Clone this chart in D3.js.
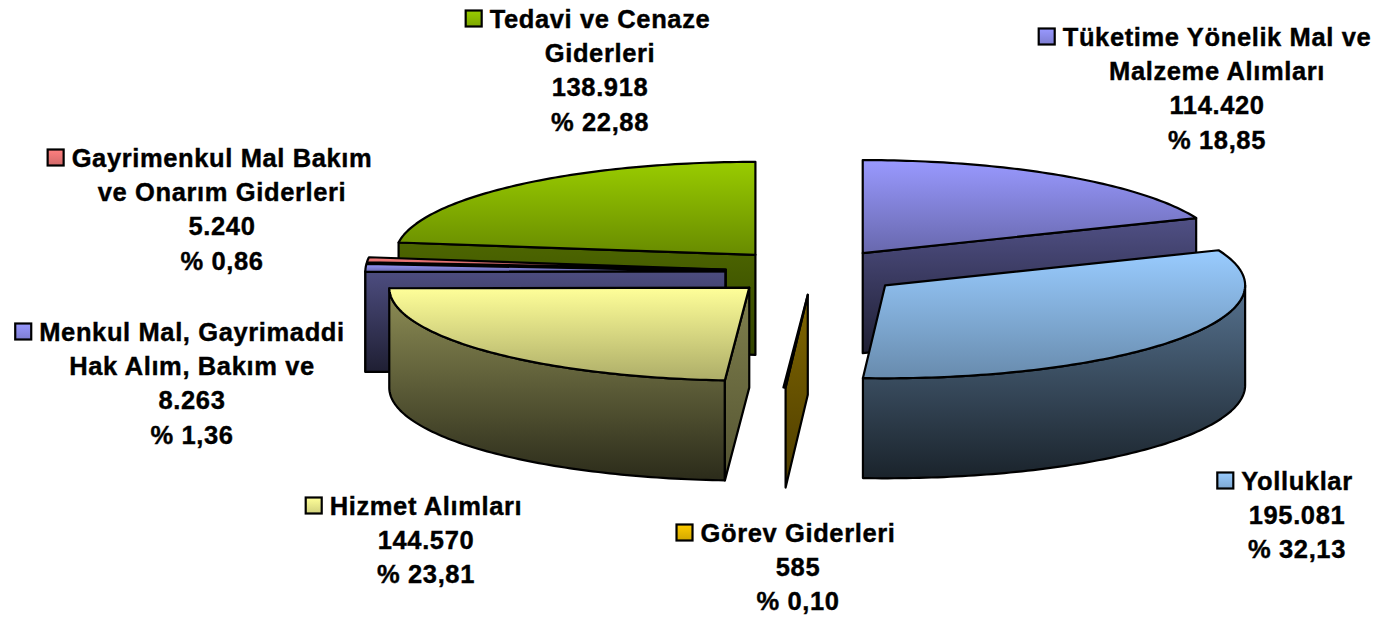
<!DOCTYPE html>
<html><head><meta charset="utf-8">
<script src="https://cdn.jsdelivr.net/npm/d3@7/dist/d3.min.js"></script>
<style>html,body{margin:0;padding:0;background:#fff}svg{display:block}
text{font-family:"Liberation Sans",Arial,sans-serif;font-weight:700;font-size:25.5px;letter-spacing:.62px;fill:#000;stroke:#000;stroke-width:.4px}</style>
</head><body><svg id="c" width="1376" height="621"></svg>
<script>
// Data, clockwise from 12 o'clock
const categories = [
  ["Tüketime Yönelik Mal ve","Malzeme Alımları"],
  ["Yolluklar"],
  ["Görev Giderleri"],
  ["Hizmet Alımları"],
  ["Menkul Mal, Gayrimaddi","Hak Alım, Bakım ve"],
  ["Gayrimenkul Mal Bakım","ve Onarım Giderleri"],
  ["Tedavi ve Cenaze","Giderleri"]
];
const values = [114420,195081,585,144570,8263,5240,138918];
const colors = ["#9999FF","#99CCFF","#FFCC00","#FFFF99","#9999FF","#FF8080","#99CC00"];

// Layout
const labelCx = [1217,1297,798,426,192,222,600];
const labelTop = [36.5,480.5,532.5,505.5,331.5,157.5,18.5];
const drawOrder = [6,5,4,0,2,3,1];
const lineStep = 34.4;
const cx = 813.5, cy = 272, rx = 360, ry = 93, depth = 100, explode = 0.245;

const locale = d3.formatLocale({decimal:",",thousands:".",grouping:[3],currency:["",""]});
const fmtValue = locale.format(",d"), fmtPct = locale.format(".2f");
const total = d3.sum(values);
const slices = d3.pie().sort(null).value(d=>d)(values);

const svg = d3.select("#c");
const defs = svg.append("defs");
const sx = d3.scaleLinear().domain([-1,1]).range([-rx,rx]);
const sy = d3.scaleLinear().domain([-1,1]).range([-ry,ry]);
const pt = (a,c,z=0,r=1)=>[c[0]+sx(r*Math.sin(a)), c[1]+sy(-r*Math.cos(a))+z];
const line = d3.line();
let gid = 0;
function grad(base,f1,f2){
  const id="g"+(gid++), c=d3.rgb(base);
  const mul=f=>d3.rgb(c.r*f,c.g*f,c.b*f).formatHex();
  const g=defs.append("linearGradient").attr("id",id).attr("x1",0).attr("y1",0).attr("x2",0).attr("y2",1);
  g.append("stop").attr("offset",0).attr("stop-color",mul(f1));
  g.append("stop").attr("offset",1).attr("stop-color",mul(f2));
  return `url(#${id})`;
}
function face(pts,fill){
  svg.append("path").attr("d",line(pts)+"Z").attr("fill",fill)
     .attr("stroke","#000").attr("stroke-width",2.2).attr("stroke-linejoin","round");
}
const arcAngles=(a,b)=>{const n=Math.max(2,Math.ceil((b-a)/(Math.PI/180)));return d3.range(n+1).map(i=>a+(b-a)*i/n)};

drawOrder.forEach(i=>{
  const s=slices[i], a=s.startAngle, b=s.endAngle, m=(a+b)/2, col=colors[i];
  const c=pt(m,[cx,cy],0,explode);
  const sliver = (b-a) < Math.PI/180;
  // outer wall (front half only); a sliver has none worth drawing
  const v0=Math.max(a,Math.PI/2), v1=Math.min(b,Math.PI*1.5);
  if(v1>v0 && !sliver){
    const t=arcAngles(v0,v1);
    face(t.map(x=>pt(x,c)).concat(t.slice().reverse().map(x=>pt(x,c,depth))),grad(col,.56,.17));
  }
  // end cut wall
  if(Math.sin(b)>0.01) face([c,pt(b,c),pt(b,c,depth),[c[0],c[1]+depth]],grad(col,.52,.2));
  // start cut wall
  if(Math.sin(a)<-0.01){
    const end = (i===3||i===6) ? .33 : (i===2 ? .3 : .2);
    face([c,pt(a,c),pt(a,c,depth),[c[0],c[1]+depth]],grad(col,.5,end));
  }
  // top face
  face([c].concat(arcAngles(a,b).map(x=>pt(x,c))),grad(col,1,.68));
});

categories.forEach((lines,i)=>{
  const g=svg.append("g");
  const pct=values[i]/total*100;
  const all=lines.concat([fmtValue(values[i]),"% "+fmtPct(pct)]);
  let first;
  all.forEach((t,k)=>{
    const el=g.append("text").attr("x",labelCx[i]).attr("y",labelTop[i]+k*lineStep)
      .attr("dy","0.36em").attr("text-anchor","middle").text(t);
    if(k===0) first=el;
  });
  const w=first.node().getComputedTextLength();
  const kx=labelCx[i]-w/2-24, ky=labelTop[i]-8;
  g.append("rect").attr("x",kx).attr("y",ky).attr("width",16).attr("height",16)
   .attr("fill",grad(colors[i],1,.82)).attr("stroke","#000").attr("stroke-width",2.2);
});
</script></body></html>
